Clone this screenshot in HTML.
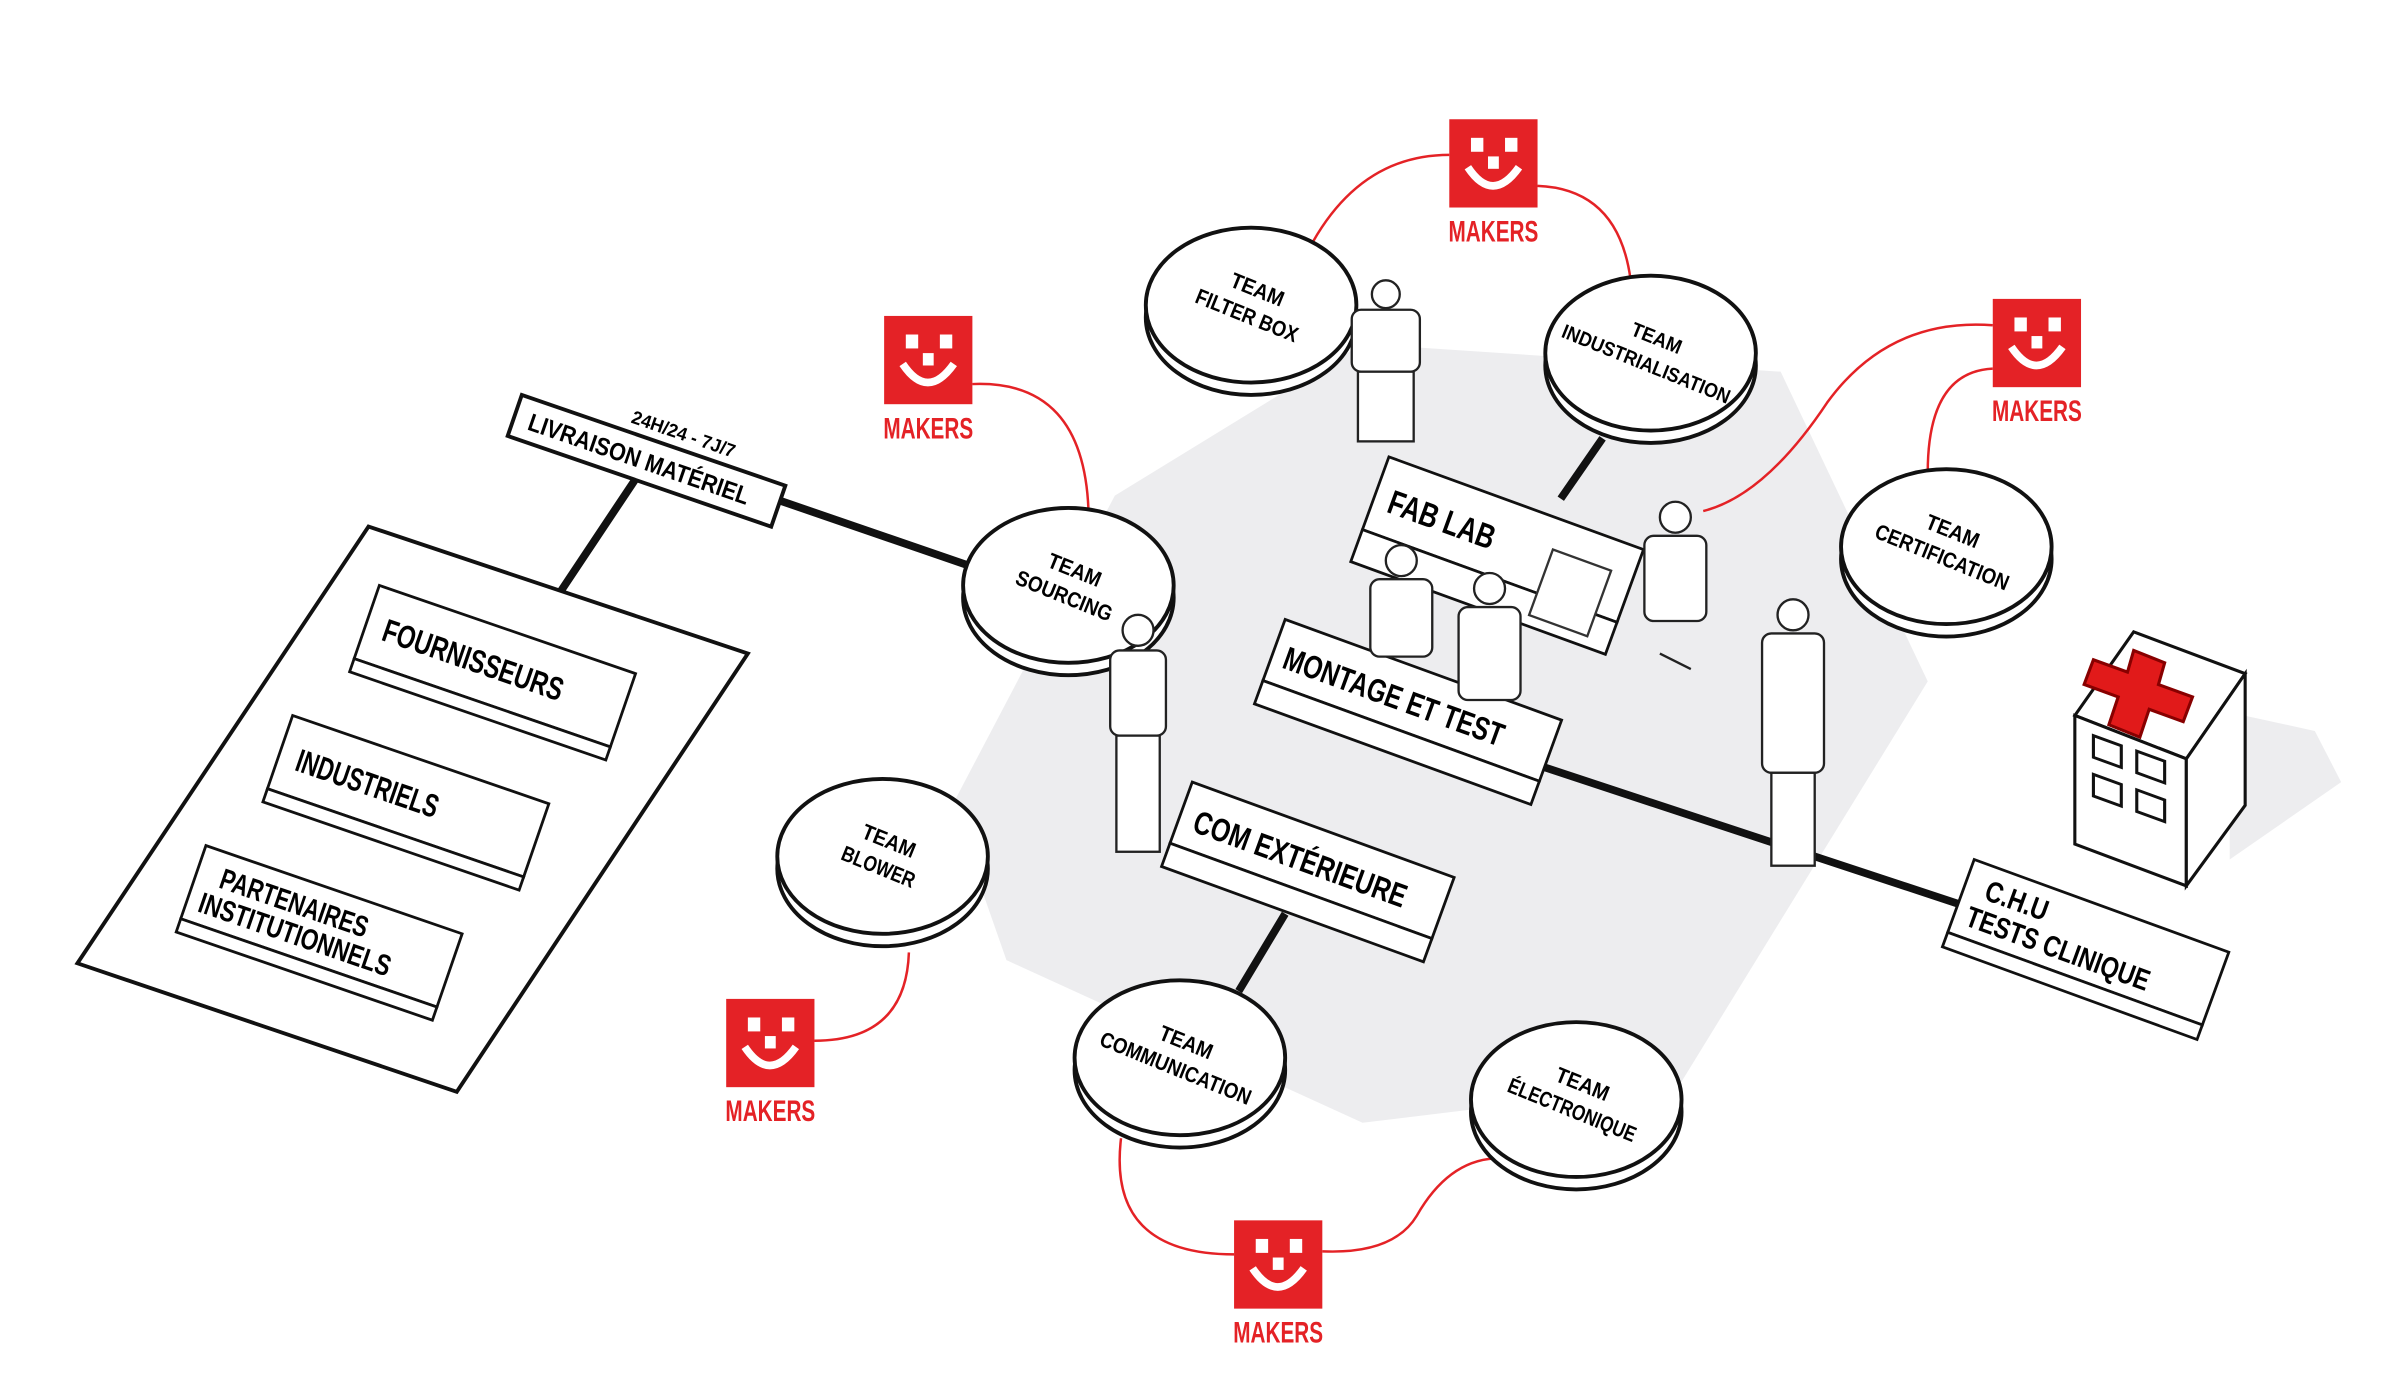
<!DOCTYPE html>
<html><head><meta charset="utf-8"><style>
html,body{margin:0;padding:0;background:#fff;width:2400px;height:1400px;overflow:hidden}
svg{display:block}
.t{font-family:"Liberation Sans",sans-serif;font-weight:bold}
</style></head><body>
<svg width="2400" height="1400" viewBox="0 0 1550 904" preserveAspectRatio="none" xmlns="http://www.w3.org/2000/svg">
<defs>
<g id="disc">
<ellipse cx="0" cy="8" rx="68" ry="50" fill="#fff" stroke="#111" stroke-width="2.5"/>
<ellipse cx="0" cy="0" rx="68" ry="50" fill="#fff" stroke="#111" stroke-width="2.5"/>
</g>
<g id="logo">
<rect x="0" y="0" width="57" height="57" fill="#e42226"/>
<rect x="14" y="12" width="8" height="9" fill="#fff"/>
<rect x="36" y="12" width="8" height="9" fill="#fff"/>
<rect x="25" y="24" width="7" height="8" fill="#fff"/>
<path d="M12 31 Q28 55 45 31" fill="none" stroke="#fff" stroke-width="5"/>
</g>
</defs>
<rect width="1550" height="904" fill="#fff"/>
<polygon points="720,320 880,222 1150,240 1245,440 1085,700 880,725 650,620 615,520" fill="#ededef"/>
<polygon points="1440,460 1495,472 1512,505 1440,555" fill="#ededef"/>

<g stroke="#111" stroke-width="5" fill="none">
<line x1="500" y1="322" x2="628" y2="366"/>
<line x1="410" y1="310" x2="362" y2="382"/>
<line x1="990" y1="493" x2="1272" y2="586"/>
<line x1="830" y1="590" x2="800" y2="640"/>
<line x1="1035" y1="283" x2="1008" y2="322"/>
</g>

<g stroke="#e42226" stroke-width="1.6" fill="none">
<path d="M848 156 Q880 100 936 100"/>
<path d="M993 120 Q1045 122 1053 180"/>
<path d="M628 248 Q700 245 703 330"/>
<path d="M1287 210 Q1220 205 1180 260 Q1140 320 1100 330"/>
<path d="M1287 238 Q1245 240 1245 305"/>
<path d="M587 615 Q585 672 526 672"/>
<path d="M724 735 Q715 810 797 810"/>
<path d="M854 808 Q900 810 915 785 Q935 750 965 748"/>
</g>

<g>
<polygon points="238,340 483,422 295,705 50,622" fill="#fff" stroke="#111" stroke-width="2.5"/>
<g transform="translate(245,378) rotate(19)">
<rect x="0" y="0" width="175" height="50" fill="#fff" stroke="#111" stroke-width="1.8"/>
<rect x="0" y="50" width="175" height="9" fill="#fff" stroke="#111" stroke-width="1.8"/>
<text class="t" x="12" y="33" font-size="21" textLength="122" lengthAdjust="spacingAndGlyphs">FOURNISSEURS</text>
</g>
<g transform="translate(189,462) rotate(19)">
<rect x="0" y="0" width="175" height="50" fill="#fff" stroke="#111" stroke-width="1.8"/>
<rect x="0" y="50" width="175" height="9" fill="#fff" stroke="#111" stroke-width="1.8"/>
<text class="t" x="12" y="33" font-size="21" textLength="96" lengthAdjust="spacingAndGlyphs">INDUSTRIELS</text>
</g>
<g transform="translate(133,546) rotate(19)">
<rect x="0" y="0" width="175" height="50" fill="#fff" stroke="#111" stroke-width="1.8"/>
<rect x="0" y="50" width="175" height="9" fill="#fff" stroke="#111" stroke-width="1.8"/>
<text class="t" font-size="19"><tspan x="16" y="23" textLength="100" lengthAdjust="spacingAndGlyphs">PARTENAIRES</tspan><tspan x="8" y="42" textLength="130" lengthAdjust="spacingAndGlyphs">INSTITUTIONNELS</tspan></text>
</g>
</g>

<g transform="translate(337,255) rotate(19)">
<rect x="0" y="0" width="180" height="28" fill="#fff" stroke="#111" stroke-width="2.5"/>
<text class="t" x="10" y="20" font-size="16" textLength="150" lengthAdjust="spacingAndGlyphs">LIVRAISON MATÉRIEL</text>
<text class="t" x="72" y="-6" font-size="12" textLength="70" lengthAdjust="spacingAndGlyphs">24H/24 - 7J/7</text>
</g>

<g class="t" font-size="14" text-anchor="middle">
<g transform="translate(808,197)"><use href="#disc"/><text transform="rotate(22)"><tspan x="0" y="-6" textLength="36" lengthAdjust="spacingAndGlyphs">TEAM</tspan><tspan x="0" y="12" textLength="70" lengthAdjust="spacingAndGlyphs">FILTER BOX</tspan></text></g>
<g transform="translate(1066,228)"><use href="#disc"/><text transform="rotate(22)" font-size="13"><tspan x="0" y="-6" textLength="34" lengthAdjust="spacingAndGlyphs">TEAM</tspan><tspan x="0" y="12" textLength="116" lengthAdjust="spacingAndGlyphs">INDUSTRIALISATION</tspan></text></g>
<g transform="translate(690,378)"><use href="#disc"/><text transform="rotate(22)"><tspan x="0" y="-6" textLength="36" lengthAdjust="spacingAndGlyphs">TEAM</tspan><tspan x="0" y="12" textLength="66" lengthAdjust="spacingAndGlyphs">SOURCING</tspan></text></g>
<g transform="translate(1257,353)"><use href="#disc"/><text transform="rotate(22)"><tspan x="0" y="-6" textLength="36" lengthAdjust="spacingAndGlyphs">TEAM</tspan><tspan x="0" y="12" textLength="92" lengthAdjust="spacingAndGlyphs">CERTIFICATION</tspan></text></g>
<g transform="translate(570,553)"><use href="#disc"/><text transform="rotate(22)"><tspan x="0" y="-6" textLength="36" lengthAdjust="spacingAndGlyphs">TEAM</tspan><tspan x="0" y="12" textLength="50" lengthAdjust="spacingAndGlyphs">BLOWER</tspan></text></g>
<g transform="translate(762,683)"><use href="#disc"/><text transform="rotate(22)"><tspan x="0" y="-6" textLength="36" lengthAdjust="spacingAndGlyphs">TEAM</tspan><tspan x="0" y="12" textLength="104" lengthAdjust="spacingAndGlyphs">COMMUNICATION</tspan></text></g>
<g transform="translate(1018,710)"><use href="#disc"/><text transform="rotate(22)"><tspan x="0" y="-6" textLength="36" lengthAdjust="spacingAndGlyphs">TEAM</tspan><tspan x="0" y="12" textLength="88" lengthAdjust="spacingAndGlyphs">ÉLECTRONIQUE</tspan></text></g>
</g>

<g transform="translate(897,295) rotate(20)">
<rect x="0" y="0" width="175" height="50" fill="#fff" stroke="#111" stroke-width="1.8"/>
<rect x="0" y="50" width="175" height="22" fill="#fff" stroke="#111" stroke-width="1.8"/>
<text class="t" x="10" y="34" font-size="22" textLength="72" lengthAdjust="spacingAndGlyphs">FAB LAB</text>
<rect x="120" y="20" width="40" height="45" fill="#fff" stroke="#333" stroke-width="1.5"/>
</g>
<g transform="translate(830,400) rotate(20)">
<rect x="0" y="0" width="190" height="42" fill="#fff" stroke="#111" stroke-width="1.8"/>
<rect x="0" y="42" width="190" height="16" fill="#fff" stroke="#111" stroke-width="1.8"/>
<text class="t" x="8" y="30" font-size="21" textLength="150" lengthAdjust="spacingAndGlyphs">MONTAGE ET TEST</text>
</g>
<g transform="translate(770,505) rotate(20)">
<rect x="0" y="0" width="180" height="42" fill="#fff" stroke="#111" stroke-width="1.8"/>
<rect x="0" y="42" width="180" height="16" fill="#fff" stroke="#111" stroke-width="1.8"/>
<text class="t" x="10" y="30" font-size="21" textLength="145" lengthAdjust="spacingAndGlyphs">COM EXTÉRIEURE</text>
</g>
<g transform="translate(1275,555) rotate(20)">
<rect x="0" y="0" width="175" height="50" fill="#fff" stroke="#111" stroke-width="1.8"/>
<rect x="0" y="50" width="175" height="10" fill="#fff" stroke="#111" stroke-width="1.8"/>
<text class="t" font-size="19"><tspan x="14" y="22" textLength="42" lengthAdjust="spacingAndGlyphs">C.H.U</tspan><tspan x="8" y="42" textLength="125" lengthAdjust="spacingAndGlyphs">TESTS CLINIQUE</tspan></text>
</g>

<g stroke="#111" stroke-width="2" fill="#fff">
<polygon points="1340,462 1378,408 1450,435 1412,490"/>
<polygon points="1340,462 1412,490 1412,572 1340,545"/>
<polygon points="1412,490 1450,435 1450,520 1412,572"/>
<path d="M1378 420 l20 8 l-4 14 l22 8 l-6 16 l-22 -8 l-6 18 l-20 -8 l6 -18 l-22 -8 l6 -16 l22 8z" fill="#e11a1a" stroke="#800"/>
<rect x="1352" y="475" width="18" height="14" transform="skewY(20)" transform-origin="1352 475"/>
<rect x="1380" y="485" width="18" height="14" transform="skewY(20)" transform-origin="1380 485"/>
<rect x="1352" y="500" width="18" height="14" transform="skewY(20)" transform-origin="1352 500"/>
<rect x="1380" y="510" width="18" height="14" transform="skewY(20)" transform-origin="1380 510"/>
</g>

<g fill="#fff" stroke="#222" stroke-width="1.5">
<g transform="translate(735,395)"><circle cx="0" cy="12" r="10"/><rect x="-18" y="25" width="36" height="55" rx="6"/><rect x="-14" y="80" width="28" height="75"/></g>
<g transform="translate(895,180)"><circle cx="0" cy="10" r="9"/><rect x="-22" y="20" width="44" height="40" rx="6"/><rect x="-18" y="60" width="36" height="45"/></g>
<g transform="translate(905,350)"><circle cx="0" cy="12" r="10"/><rect x="-20" y="24" width="40" height="50" rx="6"/></g>
<g transform="translate(962,368)"><circle cx="0" cy="12" r="10"/><rect x="-20" y="24" width="40" height="60" rx="6"/></g>
<g transform="translate(1082,322)"><circle cx="0" cy="12" r="10"/><rect x="-20" y="24" width="40" height="55" rx="6"/><line x1="-10" y1="100" x2="10" y2="110"/></g>
<g transform="translate(1158,385)"><circle cx="0" cy="12" r="10"/><rect x="-20" y="24" width="40" height="90" rx="6"/><rect x="-14" y="114" width="28" height="60"/></g>
</g>

<g class="t" font-size="19" fill="#e42226" text-anchor="middle">
<g transform="translate(936,77)"><use href="#logo"/><text x="28.5" y="79" textLength="58" lengthAdjust="spacingAndGlyphs">MAKERS</text></g>
<g transform="translate(571,204)"><use href="#logo"/><text x="28.5" y="79" textLength="58" lengthAdjust="spacingAndGlyphs">MAKERS</text></g>
<g transform="translate(1287,193)"><use href="#logo"/><text x="28.5" y="79" textLength="58" lengthAdjust="spacingAndGlyphs">MAKERS</text></g>
<g transform="translate(469,645)"><use href="#logo"/><text x="28.5" y="79" textLength="58" lengthAdjust="spacingAndGlyphs">MAKERS</text></g>
<g transform="translate(797,788)"><use href="#logo"/><text x="28.5" y="79" textLength="58" lengthAdjust="spacingAndGlyphs">MAKERS</text></g>
</g>
</svg>
</body></html>
